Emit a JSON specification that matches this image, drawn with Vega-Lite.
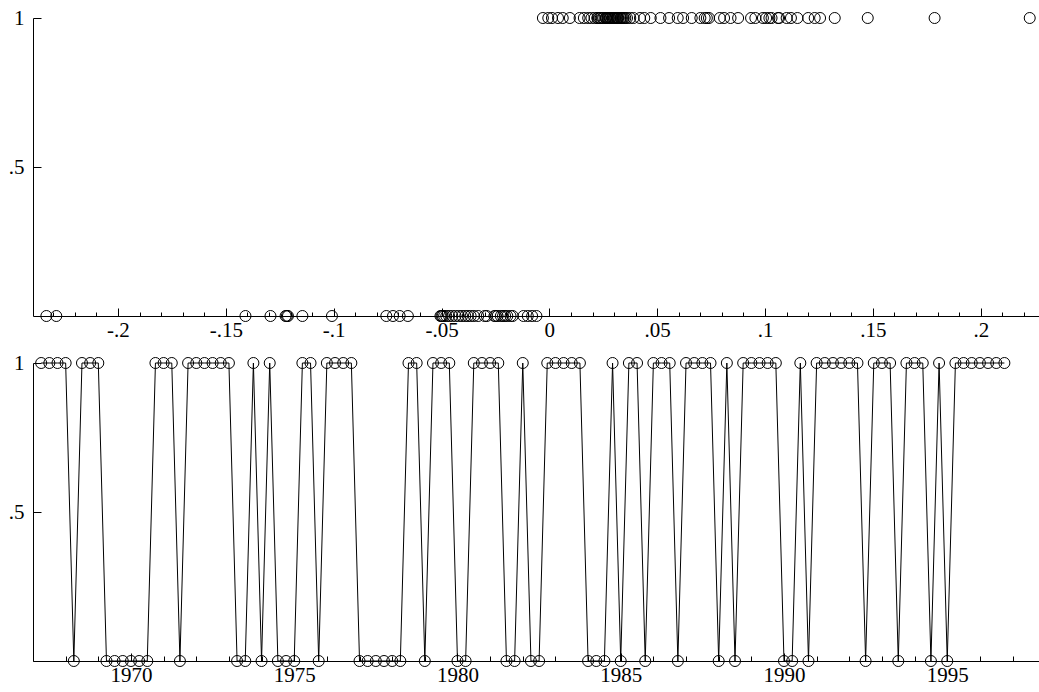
{
  "$schema": "https://vega.github.io/schema/vega-lite/v6.json",
  "padding": {"left": 8, "top": 7, "right": 0, "bottom": 0},
  "bounds": "flush",
  "spacing": 47,
  "config": {
    "view": {"stroke": null},
    "axis": {"labelFont": "Liberation Serif", "labelFontSize": 21, "labelColor": "#000", "domainColor": "#000", "tickColor": "#000", "domainWidth": 1, "tickWidth": 1, "grid": false, "labelOverlap": false, "labelFlush": false, "labelBound": false}
  },
  "data": {"values": [
    {"t":1967.25,"up":1,"r":-0.003},{"t":1967.5,"up":1,"r":0.014},{"t":1967.75,"up":1,"r":0.042},{"t":1968,"up":1,"r":0.066},
    {"t":1968.25,"up":0,"r":-0.0365},{"t":1968.5,"up":1,"r":0.0935},{"t":1968.75,"up":1,"r":0.1323},{"t":1969,"up":1,"r":-0.0005},
    {"t":1969.25,"up":0,"r":-0.0195},{"t":1969.5,"up":0,"r":-0.0756},{"t":1969.75,"up":0,"r":-0.0488},{"t":1970,"up":0,"r":-0.008},
    {"t":1970.25,"up":0,"r":-0.1409},{"t":1970.5,"up":0,"r":-0.0255},{"t":1970.75,"up":1,"r":0.016},{"t":1971,"up":1,"r":0.044},
    {"t":1971.25,"up":1,"r":0.0293},{"t":1971.5,"up":0,"r":-0.0435},{"t":1971.75,"up":1,"r":0.0955},{"t":1972,"up":1,"r":0.1476},
    {"t":1972.25,"up":1,"r":0.0012},{"t":1972.5,"up":1,"r":0.018},{"t":1972.75,"up":1,"r":0.0262},{"t":1973,"up":1,"r":0.07},
    {"t":1973.25,"up":0,"r":-0.05},{"t":1973.5,"up":0,"r":-0.012},{"t":1973.75,"up":1,"r":0.0222},{"t":1974,"up":0,"r":-0.0725},
    {"t":1974.25,"up":1,"r":0.1786},{"t":1974.5,"up":0,"r":-0.1293},{"t":1974.75,"up":0,"r":-0.2286},{"t":1975,"up":0,"r":-0.0205},
    {"t":1975.25,"up":1,"r":0.004},{"t":1975.5,"up":1,"r":0.0195},{"t":1975.75,"up":0,"r":-0.033},{"t":1976,"up":1,"r":0.047},
    {"t":1976.25,"up":1,"r":0.072},{"t":1976.5,"up":1,"r":0.099},{"t":1976.75,"up":1,"r":0.2227},{"t":1977,"up":0,"r":-0.0248},
    {"t":1977.25,"up":0,"r":-0.006},{"t":1977.5,"up":0,"r":-0.039},{"t":1977.75,"up":0,"r":-0.017},{"t":1978,"up":0,"r":-0.0478},
    {"t":1978.25,"up":0,"r":-0.0215},{"t":1978.5,"up":1,"r":0.0062},{"t":1978.75,"up":1,"r":0.021},{"t":1979,"up":0,"r":-0.0405},
    {"t":1979.25,"up":1,"r":0.0274},{"t":1979.5,"up":1,"r":0.073},{"t":1979.75,"up":1,"r":0.1005},{"t":1980,"up":0,"r":-0.1008},
    {"t":1980.25,"up":0,"r":-0.029},{"t":1980.5,"up":1,"r":0.0095},{"t":1980.75,"up":1,"r":0.0225},{"t":1981,"up":1,"r":0.0283},
    {"t":1981.25,"up":1,"r":0.074},{"t":1981.5,"up":0,"r":-0.0694},{"t":1981.75,"up":0,"r":-0.1145},{"t":1982,"up":1,"r":0.102},
    {"t":1982.25,"up":0,"r":-0.024},{"t":1982.5,"up":0,"r":-0.01},{"t":1982.75,"up":1,"r":0.0238},{"t":1983,"up":1,"r":0.0515},
    {"t":1983.25,"up":1,"r":0.0341},{"t":1983.5,"up":1,"r":0.103},{"t":1983.75,"up":1,"r":0.025},{"t":1984,"up":0,"r":-0.045},
    {"t":1984.25,"up":0,"r":-0.018},{"t":1984.5,"up":0,"r":-0.0505},{"t":1984.75,"up":1,"r":0.0332},{"t":1985,"up":0,"r":-0.0225},
    {"t":1985.25,"up":1,"r":0.079},{"t":1985.5,"up":1,"r":0.0245},{"t":1985.75,"up":0,"r":-0.0378},{"t":1986,"up":1,"r":0.026},
    {"t":1986.25,"up":1,"r":0.0555},{"t":1986.5,"up":1,"r":0.081},{"t":1986.75,"up":0,"r":-0.0656},{"t":1987,"up":1,"r":0.106},
    {"t":1987.25,"up":1,"r":0.0265},{"t":1987.5,"up":1,"r":0.0352},{"t":1987.75,"up":1,"r":0.084},{"t":1988,"up":0,"r":-0.042},
    {"t":1988.25,"up":1,"r":0.1065},{"t":1988.5,"up":0,"r":-0.03},{"t":1988.75,"up":1,"r":0.027},{"t":1989,"up":1,"r":0.0595},
    {"t":1989.25,"up":1,"r":0.0875},{"t":1989.5,"up":1,"r":0.0302},{"t":1989.75,"up":1,"r":0.028},{"t":1990,"up":0,"r":-0.0495},
    {"t":1990.25,"up":0,"r":-0.1212},{"t":1990.5,"up":1,"r":0.062},{"t":1990.75,"up":0,"r":-0.1217},{"t":1991,"up":1,"r":0.11},
    {"t":1991.25,"up":1,"r":0.029},{"t":1991.5,"up":1,"r":0.0232},{"t":1991.75,"up":1,"r":0.112},{"t":1992,"up":1,"r":0.0298},
    {"t":1992.25,"up":1,"r":0.115},{"t":1992.5,"up":0,"r":-0.035},{"t":1992.75,"up":1,"r":0.0305},{"t":1993,"up":1,"r":0.0318},
    {"t":1993.25,"up":1,"r":0.0312},{"t":1993.5,"up":0,"r":-0.0465},{"t":1993.75,"up":1,"r":0.12},{"t":1994,"up":1,"r":0.0315},
    {"t":1994.25,"up":1,"r":0.123},{"t":1994.5,"up":0,"r":-0.1223},{"t":1994.75,"up":1,"r":0.032},{"t":1995,"up":0,"r":-0.2332},
    {"t":1995.25,"up":1,"r":0.1255},{"t":1995.5,"up":1,"r":0.0328},{"t":1995.75,"up":1,"r":0.0336},{"t":1996,"up":1,"r":0.0345},
    {"t":1996.25,"up":1,"r":0.036},{"t":1996.5,"up":1,"r":0.0375},{"t":1996.75,"up":1,"r":0.039}
  ]},
  "vconcat": [
    {
      "width": 1006,
      "height": 298,
      "mark": {"type": "point", "shape": "circle", "size": 121, "filled": false, "stroke": "#000", "strokeWidth": 1, "opacity": 1},
      "encoding": {
        "x": {"field": "r", "type": "quantitative", "title": null,
          "scale": {"domain": [-0.2394, 0.227], "nice": false, "zero": false},
          "axis": {
            "values": [-0.23,-0.22,-0.21,-0.2,-0.19,-0.18,-0.17,-0.16,-0.15,-0.14,-0.13,-0.12,-0.11,-0.1,-0.09,-0.08,-0.07,-0.06,-0.05,-0.04,-0.03,-0.02,-0.01,0,0.01,0.02,0.03,0.04,0.05,0.06,0.07,0.08,0.09,0.1,0.11,0.12,0.13,0.14,0.15,0.16,0.17,0.18,0.19,0.2,0.21,0.22],
            "labelExpr": "abs(datum.value*20 - round(datum.value*20)) < 0.001 ? (datum.value < -0.0001 ? '-' : '') + replace(format(abs(datum.value), '~g'), '0.', '.') : ''",
            "tickSize": {"condition": {"test": "abs(datum.value*20 - round(datum.value*20)) < 0.001", "value": -8}, "value": -4},
            "labelPadding": 11
          }
        },
        "y": {"field": "up", "type": "quantitative", "title": null,
          "scale": {"domain": [0, 1], "nice": false},
          "axis": {"values": [0.5, 1], "labelExpr": "replace(format(datum.value, '~g'), '0.', '.')", "tickSize": -8, "labelPadding": 17}
        }
      }
    },
    {
      "width": 1006,
      "height": 298,
      "encoding": {
        "x": {"field": "t", "type": "quantitative", "title": null,
          "scale": {"domain": [1967, 1997.81], "nice": false, "zero": false},
          "axis": {
            "values": [1967,1968,1969,1970,1971,1972,1973,1974,1975,1976,1977,1978,1979,1980,1981,1982,1983,1984,1985,1986,1987,1988,1989,1990,1991,1992,1993,1994,1995,1996,1997],
            "labelExpr": "datum.value % 5 == 0 ? format(datum.value, 'd') : ''",
            "tickSize": {"condition": {"test": "datum.value % 5 == 0", "value": -8}, "value": -5},
            "labelPadding": 11
          }
        },
        "y": {"field": "up", "type": "quantitative", "title": null,
          "scale": {"domain": [0, 1], "nice": false},
          "axis": {"values": [0.5, 1], "labelExpr": "replace(format(datum.value, '~g'), '0.', '.')", "tickSize": -8, "labelPadding": 17}
        }
      },
      "layer": [
        {"mark": {"type": "line", "color": "#000", "strokeWidth": 1}},
        {"mark": {"type": "point", "shape": "circle", "size": 121, "filled": false, "stroke": "#000", "strokeWidth": 1, "opacity": 1}}
      ]
    }
  ]
}
